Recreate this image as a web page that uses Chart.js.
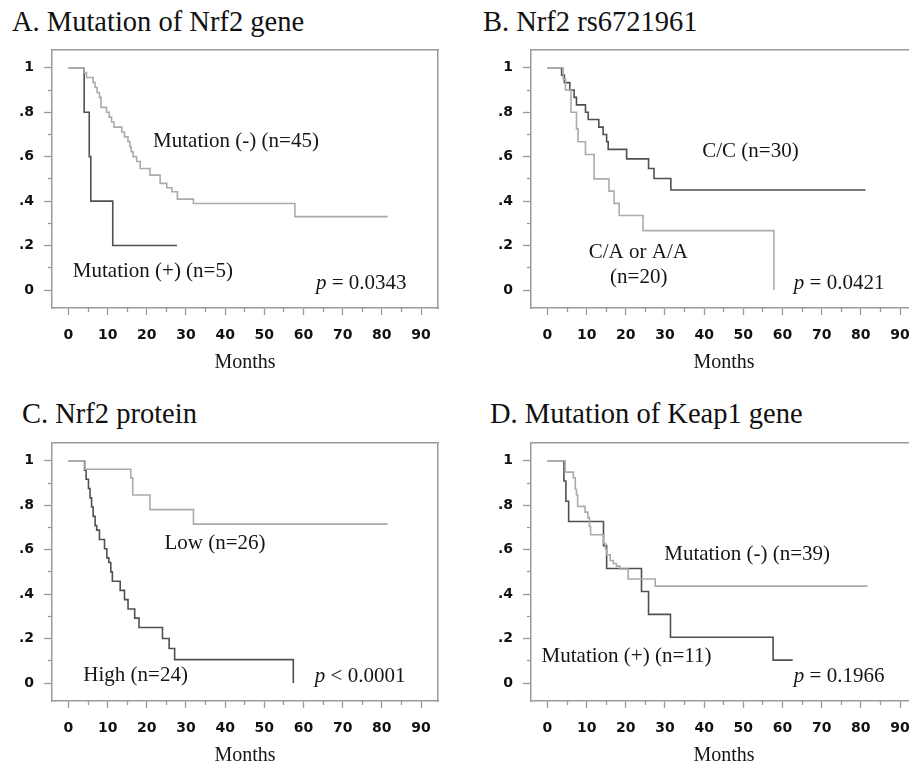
<!DOCTYPE html>
<html><head><meta charset="utf-8">
<script src="https://cdn.jsdelivr.net/npm/chart.js@4.4.1/dist/chart.umd.min.js"></script>
<style>
html,body{margin:0;padding:0;background:#fff;width:909px;height:766px;overflow:hidden;position:relative}
.panel{position:absolute;width:460px;height:340px}
.title{position:absolute;font-family:"Liberation Serif","Times New Roman",serif;font-size:28.5px;line-height:28px;color:#111;white-space:nowrap}
</style></head><body>
<div class="title" style="left:12px;top:8px">A. Mutation of Nrf2 gene</div>
<div class="title" style="left:483px;top:8px">B. Nrf2 rs6721961</div>
<div class="title" style="left:22px;top:400px">C. Nrf2 protein</div>
<div class="title" style="left:490px;top:400px">D. Mutation of Keap1 gene</div>
<div class="panel" style="left:0;top:40px"><canvas id="cA" width="460" height="340"></canvas></div>
<div class="panel" style="left:479px;top:40px"><canvas id="cB" width="460" height="340"></canvas></div>
<div class="panel" style="left:0;top:433px"><canvas id="cC" width="460" height="340"></canvas></div>
<div class="panel" style="left:479px;top:433px"><canvas id="cD" width="460" height="340"></canvas></div>
<script>
// ---- tick values / labels ----
const xTicks = [0, 10, 20, 30, 40, 50, 60, 70, 80, 90];
const xMinorTicks = [5, 15, 25, 35, 45, 55, 65, 75, 85];
const yTicks = [0, 0.2, 0.4, 0.6, 0.8, 1];
const yTickLabels = ['0', '.2', '.4', '.6', '.8', '1'];
const yMinorTicks = [0.1, 0.3, 0.5, 0.7, 0.9];

// ---- A. Mutation of Nrf2 gene ----
const aNegT = [0, 4.0, 4.6, 6.3, 6.8, 7.3, 7.9, 8.3, 9.7, 10.4, 11.0, 11.6, 13.6, 14.3, 15.2, 15.7, 16.0, 16.5, 17.4, 18.3, 20.8, 23.4, 25.1, 26.4, 27.8, 31.9, 57.8, 81.5];
const aNegS = [1, 0.978, 0.956, 0.933, 0.911, 0.889, 0.867, 0.822, 0.80, 0.778, 0.756, 0.733, 0.711, 0.689, 0.667, 0.644, 0.622, 0.60, 0.578, 0.547, 0.517, 0.48, 0.46, 0.442, 0.409, 0.389, 0.33, 0.33];
const aPosT = [0, 4.0, 5.3, 5.7, 11.3, 27.7];
const aPosS = [1, 0.8, 0.6, 0.4, 0.2, 0.2];

// ---- B. Nrf2 rs6721961 ----
const bCCT = [0, 3.6, 4.3, 5.7, 6.8, 7.4, 9.7, 10.4, 13.1, 14.2, 15.1, 15.5, 20.2, 25.8, 27.2, 31.5, 81.2];
const bCCS = [1, 0.967, 0.933, 0.90, 0.867, 0.833, 0.80, 0.767, 0.733, 0.70, 0.667, 0.633, 0.59, 0.547, 0.502, 0.45, 0.45];
const bCAT = [0, 4.0, 4.6, 6.0, 7.4, 7.8, 9.7, 11.9, 15.7, 17.0, 18.3, 24.4, 57.8];
const bCAS = [1, 0.95, 0.90, 0.80, 0.725, 0.667, 0.61, 0.50, 0.445, 0.39, 0.335, 0.267, 0];

// ---- C. Nrf2 protein ----
const cLowT = [0, 4.2, 15.9, 16.4, 20.8, 31.9, 81.5];
const cLowS = [1, 0.962, 0.923, 0.846, 0.78, 0.715, 0.715];
const cHighT = [0, 4.1, 4.5, 5.1, 5.5, 5.9, 6.3, 6.8, 7.2, 7.9, 9.2, 9.8, 10.3, 10.8, 11.2, 13.2, 14.3, 15.2, 16.9, 18.0, 24.0, 25.7, 27.1, 57.4];
const cHighS = [1, 0.958, 0.917, 0.875, 0.833, 0.792, 0.75, 0.708, 0.688, 0.646, 0.604, 0.563, 0.542, 0.50, 0.458, 0.417, 0.375, 0.333, 0.292, 0.25, 0.20, 0.155, 0.105, 0];

// ---- D. Mutation of Keap1 gene ----
const dNegT = [0, 4.5, 6.6, 7.1, 7.4, 7.7, 9.6, 10.3, 10.7, 11.0, 14.3, 14.8, 15.1, 16.0, 16.8, 17.6, 18.5, 20.6, 27.5, 81.7];
const dNegS = [1, 0.949, 0.923, 0.872, 0.846, 0.795, 0.769, 0.744, 0.705, 0.667, 0.628, 0.603, 0.577, 0.551, 0.538, 0.526, 0.513, 0.468, 0.436, 0.436];
const dPosT = [0, 4.2, 4.7, 5.4, 14.3, 15.1, 24.0, 25.8, 31.4, 57.6, 62.6];
const dPosS = [1, 0.909, 0.818, 0.727, 0.618, 0.515, 0.412, 0.309, 0.206, 0.103, 0.103];

const DARK = '#505050', LIGHT = '#ababab', FRAME = '#9a9a9a';
const SERIF = '"Liberation Serif", "Times New Roman", serif';

function pts(t, s) { return t.map((v, i) => ({x: v, y: s[i]})); }

const annotPlugin = {
  id: 'annot',
  afterDatasetsDraw(chart, args, opts) {
    const ctx = chart.ctx, xs = chart.scales.x, ys = chart.scales.y;
    ctx.save();
    ctx.fillStyle = '#151515';
    ctx.textBaseline = 'middle';
    (opts.items || []).forEach(it => {
      let px = xs.getPixelForValue(it.x);
      const py = ys.getPixelForValue(it.y);
      if (it.italic) {
        ctx.font = 'italic 21px ' + SERIF;
        ctx.textAlign = 'left';
        ctx.fillText(it.italic, px, py);
        px += ctx.measureText(it.italic).width;
      }
      ctx.font = '21px ' + SERIF;
      ctx.textAlign = it.align || 'left';
      ctx.fillText(it.text, px, py);
    });
    ctx.restore();
  }
};

const XMIN = -4.21, XMAX = 94.34, YMIN = -0.081, YMAX = 1.08;

function noPad(s) { s.paddingTop = 0; s.paddingBottom = 0; s.paddingLeft = 0; s.paddingRight = 0; }

function scales() {
  const tickFont = {family: 'DejaVu Sans', size: 14, weight: 'bold'};
  return {
    x: {
      type: 'linear', position: 'bottom', min: XMIN, max: XMAX, weight: 0,
      afterBuildTicks: s => { s.ticks = xTicks.map(v => ({value: v})); },
      ticks: {font: tickFont, color: '#111', padding: 12, maxRotation: 0, autoSkip: false, callback: v => String(v)},
      grid: {drawOnChartArea: false, drawTicks: true, tickLength: 7, tickColor: FRAME, tickWidth: 1.3},
      border: {display: true, color: FRAME, width: 1.5},
      title: {display: true, text: 'Months', font: {family: 'Liberation Serif', size: 20}, color: '#151515', padding: {top: 0, bottom: 5}},
      afterFit: s => { s.height = 72; noPad(s); }
    },
    xm: {
      type: 'linear', position: 'bottom', min: XMIN, max: XMAX, weight: -1,
      afterBuildTicks: s => { s.ticks = xMinorTicks.map(v => ({value: v})); },
      ticks: {display: false},
      grid: {drawOnChartArea: false, drawTicks: true, tickLength: 4, tickColor: FRAME, tickWidth: 1.3},
      border: {display: false},
      afterFit: s => { s.height = 0; noPad(s); }
    },
    xt: {
      type: 'linear', position: 'top', min: XMIN, max: XMAX,
      ticks: {display: false},
      grid: {drawOnChartArea: false, drawTicks: false},
      border: {display: true, color: FRAME, width: 1.5},
      afterFit: s => { s.height = 0; noPad(s); }
    },
    y: {
      type: 'linear', position: 'left', min: YMIN, max: YMAX, weight: 0,
      afterBuildTicks: s => { s.ticks = yTicks.map(v => ({value: v})); },
      ticks: {font: tickFont, color: '#111', padding: 10, autoSkip: false,
              callback: v => { const i = yTicks.findIndex(t => Math.abs(t - v) < 1e-6); return i >= 0 ? yTickLabels[i] : ''; }},
      grid: {drawOnChartArea: false, drawTicks: true, tickLength: 8, tickColor: FRAME, tickWidth: 1.3},
      border: {display: true, color: FRAME, width: 1.5},
      afterFit: s => { s.width = 52; noPad(s); }
    },
    ym: {
      type: 'linear', position: 'left', min: YMIN, max: YMAX, weight: -1,
      afterBuildTicks: s => { s.ticks = yMinorTicks.map(v => ({value: v})); },
      ticks: {display: false},
      grid: {drawOnChartArea: false, drawTicks: true, tickLength: 4, tickColor: FRAME, tickWidth: 1.3},
      border: {display: false},
      afterFit: s => { s.width = 0; noPad(s); }
    },
    yr: {
      type: 'linear', position: 'right', min: YMIN, max: YMAX,
      ticks: {display: false},
      grid: {drawOnChartArea: false, drawTicks: false},
      border: {display: true, color: FRAME, width: 1.5},
      afterFit: s => { s.width = 0; noPad(s); }
    }
  };
}

function ds(label, t, s, color) {
  return {label, data: pts(t, s), borderColor: color, borderWidth: 1.6, stepped: 'before',
          pointRadius: 0, pointHoverRadius: 0, fill: false, tension: 0, xAxisID: 'x', yAxisID: 'y'};
}

function make(id, datasets, items) {
  return new Chart(document.getElementById(id), {
    type: 'line',
    data: {datasets},
    options: {
      responsive: false, animation: false, devicePixelRatio: 1,
      layout: {padding: {left: 0, right: 22, top: 10, bottom: 0}},
      plugins: {legend: {display: false}, tooltip: {enabled: false}, annot: {items}},
      scales: scales()
    },
    plugins: [annotPlugin]
  });
}

make('cA', [ds('Mutation (-) (n=45)', aNegT, aNegS, LIGHT), ds('Mutation (+) (n=5)', aPosT, aPosS, DARK)], [
  {x: 21.6, y: 0.67, text: 'Mutation (-) (n=45)'},
  {x: 1.1, y: 0.085, text: 'Mutation (+) (n=5)'},
  {x: 63.2, y: 0.03, italic: 'p', text: ' = 0.0343'}
]);
make('cB', [ds('C/A or A/A (n=20)', bCAT, bCAS, LIGHT), ds('C/C (n=30)', bCCT, bCCS, DARK)], [
  {x: 39.5, y: 0.625, text: 'C/C (n=30)'},
  {x: 23.2, y: 0.171, text: 'C/A or A/A', align: 'center'},
  {x: 23.3, y: 0.058, text: '(n=20)', align: 'center'},
  {x: 62.9, y: 0.03, italic: 'p', text: ' = 0.0421'}
]);
make('cC', [ds('Low (n=26)', cLowT, cLowS, LIGHT), ds('High (n=24)', cHighT, cHighS, DARK)], [
  {x: 24.5, y: 0.626, text: 'Low (n=26)'},
  {x: 3.8, y: 0.035, text: 'High (n=24)'},
  {x: 62.9, y: 0.03, italic: 'p', text: ' < 0.0001'}
]);
make('cD', [ds('Mutation (-) (n=39)', dNegT, dNegS, LIGHT), ds('Mutation (+) (n=11)', dPosT, dPosS, DARK)], [
  {x: 29.8, y: 0.58, text: 'Mutation (-) (n=39)'},
  {x: -1.5, y: 0.12, text: 'Mutation (+) (n=11)'},
  {x: 62.9, y: 0.03, italic: 'p', text: ' = 0.1966'}
]);
</script>
</body></html>
